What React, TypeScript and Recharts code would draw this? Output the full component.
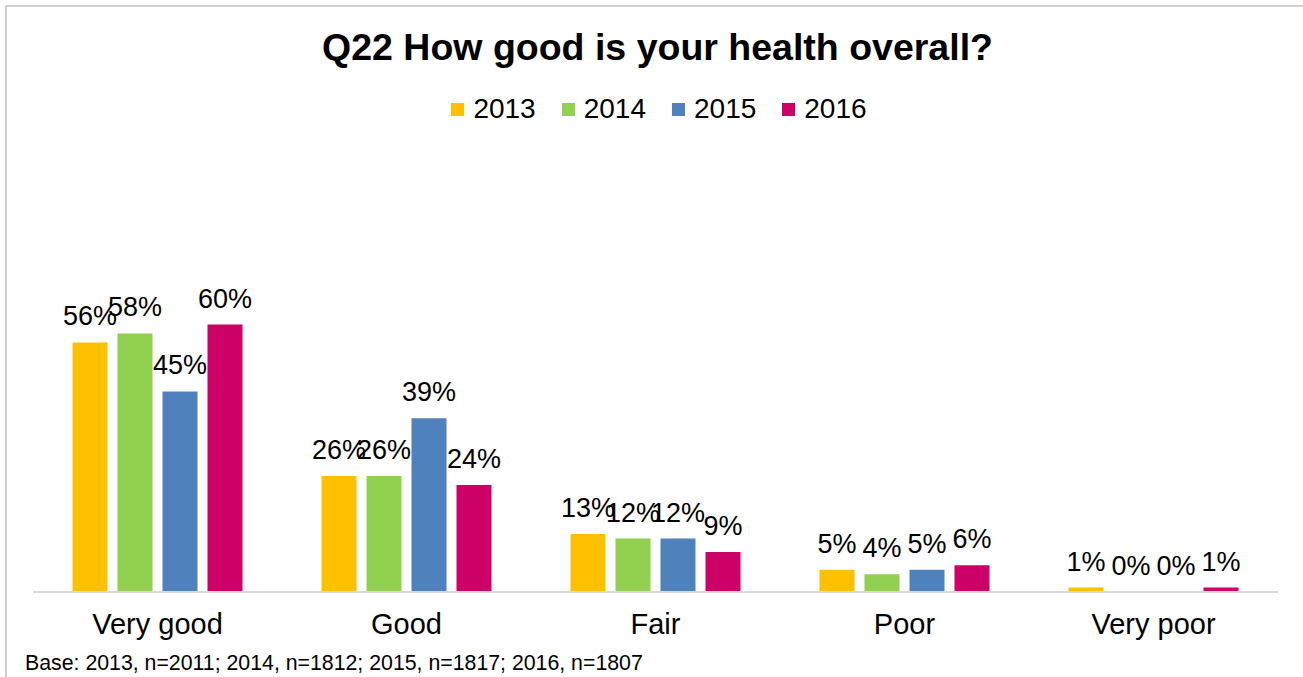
import { BarChart, Bar, XAxis, YAxis, Legend, LabelList } from "recharts";

const categories = ["Very good", "Good", "Fair", "Poor", "Very poor"];
const years = ["2013", "2014", "2015", "2016"];
const values2013 = [56, 26, 13, 5, 1];
const values2014 = [58, 26, 12, 4, 0];
const values2015 = [45, 39, 12, 5, 0];
const values2016 = [60, 24, 9, 6, 1];
const colors = ["#FFC000", "#92D050", "#4F81BD", "#CC0066"];

const seriesValues = [values2013, values2014, values2015, values2016];

const data = categories.map((name, i) => {
  const row: Record<string, string | number> = { name };
  years.forEach((y, s) => {
    row[y] = seriesValues[s][i];
  });
  return row;
});

const FONT = '"Liberation Sans", Arial, sans-serif';

// legend: small squares + year
const renderLegend = (props: any) => (
  <div style={{ display: "flex", justifyContent: "center", gap: 26, paddingLeft: 15 }}>
    {props.payload.map((p: any) => (
      <div key={p.value} style={{ display: "flex", alignItems: "center" }}>
        <span style={{ width: 13, height: 13, background: p.color, marginRight: 9, display: "inline-block" }} />
        <span style={{ fontSize: 28, color: "#000", fontFamily: FONT }}>{p.value}</span>
      </div>
    ))}
  </div>
);

// zero bars still need their "0%" label, so give them a hair-thin height
const tinyForZero = (v: any) => (v === 0 ? 0.01 : 0);

const App = () => {
  return (
    <div
      style={{
        position: "absolute",
        left: 0,
        top: 0,
        width: 1303,
        height: 677,
        overflow: "hidden",
        background: "#fff",
        fontFamily: FONT,
      }}
    >
      {/* title */}
      <div
        style={{
          position: "absolute",
          top: 29,
          left: 6,
          width: 1303,
          textAlign: "center",
          fontSize: 37.5,
          lineHeight: "37px",
          fontWeight: "bold",
          color: "#000",
        }}
      >
        Q22 How good is your health overall?
      </div>

      <div style={{ position: "absolute", left: 0, top: 0 }}>
        <BarChart
          width={1303}
          height={677}
          data={data}
          margin={{ top: 280, right: 25, bottom: 55, left: 33 }}
          barCategoryGap={39.5}
          barGap={10}
        >
          <XAxis
            dataKey="name"
            height={30}
            tickLine={false}
            axisLine={{ stroke: "#d9d9d9", strokeWidth: 2 }}
            tickMargin={15}
            tick={{ fontSize: 29, fill: "#000", fontFamily: FONT }}
            interval={0}
          />
          <YAxis hide domain={[0, 70]} />
          <Legend
            verticalAlign="middle"
            align="center"
            layout="horizontal"
            content={renderLegend}
            wrapperStyle={{ top: 93, left: 0, width: 1303 }}
          />
          {years.map((y, s) => (
            <Bar key={y} dataKey={y} fill={colors[s]} minPointSize={tinyForZero} isAnimationActive={false}>
              <LabelList
                dataKey={y}
                position="top"
                offset={17}
                formatter={(v: any) => `${v}%`}
                style={{ fontSize: 27, fill: "#000", fontFamily: FONT }}
              />
            </Bar>
          ))}
        </BarChart>
      </div>

      {/* frame, open to the right and bottom like the cropped original */}
      <div
        style={{
          position: "absolute",
          left: 5,
          top: 5,
          width: 1400,
          height: 800,
          borderTop: "2px solid #d0d0d0",
          borderLeft: "2px solid #d0d0d0",
          pointerEvents: "none",
        }}
      />

      {/* footnote */}
      <div
        style={{
          position: "absolute",
          left: 25,
          top: 652,
          fontSize: 21.3,
          lineHeight: "22px",
          color: "#000",
        }}
      >
        Base: 2013, n=2011; 2014, n=1812; 2015, n=1817; 2016, n=1807
      </div>
    </div>
  );
};

export default App;
